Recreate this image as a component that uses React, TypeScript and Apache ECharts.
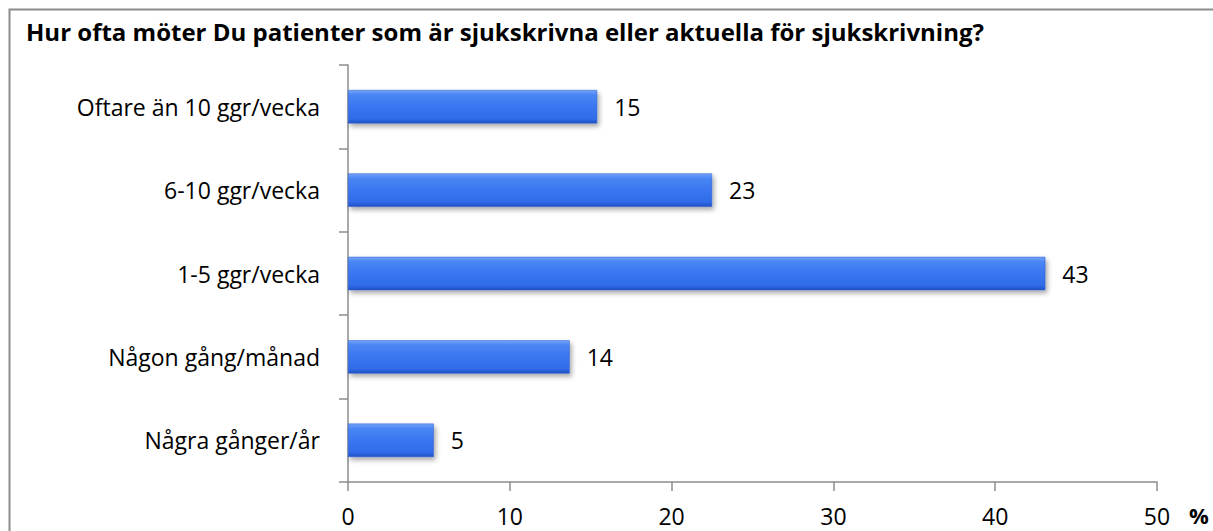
import React, { useEffect, useRef } from "react";
import * as echarts from "echarts";

const TITLE = "Hur ofta möter Du patienter som är sjukskrivna eller aktuella för sjukskrivning?";
const categories = [
  "Oftare än 10 ggr/vecka",
  "6-10 ggr/vecka",
  "1-5 ggr/vecka",
  "Någon gång/månad",
  "Några gånger/år",
];
const values = [15.4, 22.5, 43.1, 13.7, 5.3];
const xTicks = { min: 0, max: 50, interval: 10 };
const unitLabel = "%";

const FONT = "'Open Sans', 'Noto Sans', sans-serif";

export default function App() {
  const ref = useRef<HTMLDivElement>(null);
  useEffect(() => {
    if (!ref.current) return;
    const chart = echarts.init(ref.current, null, { renderer: "svg" });
    chart.setOption({
      animation: false,
      backgroundColor: "#ffffff",
      title: {
        text: TITLE,
        left: 26,
        top: 19,
        padding: 0,
        textStyle: { fontFamily: FONT, fontSize: 24, fontWeight: "bold", color: "#000" },
      },
      grid: { left: 348, right: 56, top: 65, bottom: 49, containLabel: false },
      xAxis: {
        type: "value",
        min: xTicks.min,
        max: xTicks.max,
        interval: xTicks.interval,
        splitLine: { show: false },
        axisLine: { show: true, lineStyle: { color: "#8c8c8c", width: 1.5 } },
        axisTick: { show: true, length: 9, lineStyle: { color: "#8c8c8c", width: 1.5 } },
        axisLabel: { fontFamily: FONT, fontSize: 23, color: "#000", margin: 22 },
      },
      yAxis: {
        type: "category",
        data: categories,
        inverse: true,
        axisLine: { show: true, lineStyle: { color: "#8c8c8c", width: 1.5 } },
        axisTick: { show: true, length: 9, alignWithLabel: false, lineStyle: { color: "#8c8c8c", width: 1.5 } },
        axisLabel: { fontFamily: FONT, fontSize: 23, color: "#000", margin: 28 },
      },
      graphic: [
        {
          type: "rect",
          left: 7,
          top: 7,
          shape: { width: 1220, height: 540 },
          style: { fill: "none", stroke: "#8c8c8c", lineWidth: 2 },
          silent: true,
        },
        {
          type: "text",
          left: 1189,
          top: 504,
          style: { text: unitLabel, fontFamily: FONT, fontSize: 22, fontWeight: "bold", fill: "#000" },
        },
      ],
      series: [
        {
          type: "bar",
          data: values,
          barCategoryGap: "60%",
          itemStyle: {
            color: new echarts.graphic.LinearGradient(0, 0, 0, 1, [
              { offset: 0, color: "#74a3f9" },
              { offset: 0.14, color: "#4a86f4" },
              { offset: 0.5, color: "#3a76f0" },
              { offset: 0.86, color: "#306ce9" },
              { offset: 1, color: "#2150c2" },
            ]),
            borderColor: "#2a5bd0",
            borderWidth: 0.5,
            shadowColor: "rgba(0,0,0,0.35)",
            shadowBlur: 5,
            shadowOffsetX: 2,
            shadowOffsetY: 3,
          },
          label: {
            show: true,
            position: "right",
            distance: 17,
            fontFamily: FONT,
            fontSize: 23,
            color: "#000",
            formatter: (p: any) => String(Math.round(p.value)),
          },
        },
      ],
    });
    return () => chart.dispose();
  }, []);
  return (
    <div
      ref={ref}
      style={{ position: "absolute", left: 0, top: 0, width: 1213, height: 531 }}
    />
  );
}
